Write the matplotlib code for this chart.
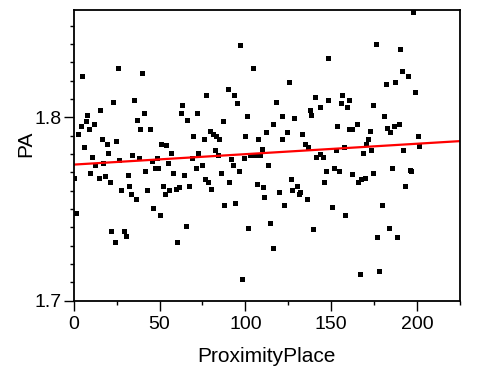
import matplotlib
matplotlib.use("Agg")
import matplotlib.pyplot as plt
from matplotlib.ticker import MultipleLocator
import numpy as np

plt.rcParams['font.family'] = ['Liberation Sans', 'DejaVu Sans']

proximity_place = [
    5.0, 25.7, 39.7, 22.9, 35.2, 15.5, 7.9, 41.0, 63.3, 62.6, 71.9, 4.1, 7.2, 11.7, 8.9, 2.7,
    36.9, 38.8, 44.3, 65.9, 69.7, 5.8, 16.3, 19.4, 24.8, 51.1, 54.0, 10.5, 20.0, 34.0, 38.1,
    48.4, 56.6, 72.5, 26.6, 68.8, 97.1, 104.7, 147.9, 125.4, 89.6, 77.3, 93.3, 95.2, 118.0,
    140.3, 147.9, 101.1, 86.7, 121.6, 128.5, 137.8, 143.4, 138.5, 115.8, 75.6, 79.5, 81.2,
    83.0, 84.9, 99.9, 107.3, 112.1, 121.6, 124.2, 132.7, 134.9, 136.4, 82.4, 109.4, 84.1,
    99.1, 91.5, 102.8, 105.7, 108.5, 141.3, 143.6, 145.2, 197.7, 176.1, 190.3, 191.0, 194.9,
    181.7, 187.4, 199.0, 156.4, 160.1, 155.5, 159.4, 174.1, 180.9, 153.4, 160.1, 162.3, 165.0,
    172.4, 182.7, 186.4, 189.3, 184.3, 200.4, 171.6, 170.4, 201.2, 152.5, 157.2, 173.2, 192.0,
    168.5, 0.3, 1.2, 12.6, 9.7, 14.8, 17.3, 18.3, 21.2, 27.6, 31.7, 32.4, 33.4, 36.3, 41.8,
    42.7, 45.7, 47.2, 49.0, 46.4, 50.3, 52.1, 53.2, 54.8, 55.7, 57.9, 59.7, 61.4, 64.3, 67.1,
    65.3, 71.1, 21.9, 23.9, 29.5, 30.5, 60.4, 74.8, 76.6, 78.3, 80.2, 85.9, 92.5, 96.4, 90.6,
    87.8, 94.2, 113.3, 106.5, 110.4, 111.1, 101.8, 114.1, 115.8, 98.0, 119.7, 122.6, 126.3,
    127.3, 130.0, 131.0, 132.0, 135.6, 139.5, 147.1, 146.0, 151.6, 154.7, 161.9, 167.3, 169.7,
    165.8, 174.1, 185.6, 195.7, 196.7, 193.2, 150.6, 158.0, 179.8, 183.5, 176.9, 188.5, 166.5,
    178.0,
]

pa = [
    1.8227, 1.8270, 1.8243, 1.8085, 1.8094, 1.8041, 1.8014, 1.8025, 1.8068, 1.8025, 1.8025,
    1.7954, 1.7981, 1.7963, 1.7936, 1.7910, 1.7986, 1.7936, 1.7936, 1.7986, 1.7899, 1.7839,
    1.7883, 1.7856, 1.7872, 1.7856, 1.7847, 1.7785, 1.7803, 1.7796, 1.7779, 1.7779, 1.7805,
    1.7803, 1.7767, 1.7776, 1.8392, 1.8270, 1.8321, 1.8190, 1.8154, 1.8119, 1.8119, 1.8076,
    1.8085, 1.8112, 1.8094, 1.8005, 1.7981, 1.8005, 1.7996, 1.8041, 1.8057, 1.8014, 1.7961,
    1.7883, 1.7927, 1.7909, 1.7899, 1.7883, 1.7899, 1.7883, 1.7918, 1.7883, 1.7918, 1.7909,
    1.7856, 1.7839, 1.7823, 1.7828, 1.7796, 1.7779, 1.7772, 1.7794, 1.7794, 1.7794, 1.7785,
    1.7800, 1.7785, 1.8573, 1.8401, 1.8372, 1.8250, 1.8225, 1.8183, 1.8190, 1.8139, 1.8119,
    1.8094, 1.8076, 1.8057, 1.8068, 1.8005, 1.7954, 1.7936, 1.7936, 1.7961, 1.7927, 1.7943,
    1.7954, 1.7961, 1.7918, 1.7899, 1.7883, 1.7856, 1.7843, 1.7823, 1.7839, 1.7823, 1.7823,
    1.7803, 1.7669, 1.7480, 1.7741, 1.7698, 1.7669, 1.7752, 1.7681, 1.7645, 1.7602, 1.7687,
    1.7627, 1.7583, 1.7554, 1.7705, 1.7602, 1.7760, 1.7725, 1.7725, 1.7504, 1.7467, 1.7627,
    1.7583, 1.7752, 1.7602, 1.7698, 1.7610, 1.7620, 1.7687, 1.7627, 1.7409, 1.7725, 1.7382,
    1.7322, 1.7382, 1.7354, 1.7322, 1.7741, 1.7662, 1.7645, 1.7610, 1.7698, 1.7741, 1.7705,
    1.7645, 1.7523, 1.7531, 1.7741, 1.7636, 1.7618, 1.7565, 1.7398, 1.7425, 1.7286, 1.7117,
    1.7592, 1.7523, 1.7662, 1.7602, 1.7627, 1.7583, 1.7592, 1.7556, 1.7389, 1.7705, 1.7645,
    1.7725, 1.7705, 1.7689, 1.7662, 1.7670, 1.7645, 1.7698, 1.7725, 1.7712, 1.7705, 1.7627,
    1.7512, 1.7469, 1.7523, 1.7398, 1.7346, 1.7346, 1.7144, 1.7164,
]

fit_intercept = 1.7742
fit_slope = 0.0000569

x_ticks = [0, 50, 100, 150, 200]
y_ticks = [1.7, 1.8]
x_range = [0, 225]
y_range = [1.7, 1.8585]

fig = plt.figure(figsize=(4.83, 3.81), dpi=100)
ax = fig.add_axes([0.1526, 0.2108, 0.7998, 0.763])

ax.plot(proximity_place, pa, linestyle='none', marker='s', markersize=3.6,
        markerfacecolor='black', markeredgecolor='black', markeredgewidth=0)

fx = np.array(x_range, dtype=float)
ax.plot(fx, fit_intercept + fit_slope * fx, color='#ff0000', linewidth=1.6)

ax.set_xlim(*x_range)
ax.set_ylim(*y_range)
ax.set_xticks(x_ticks)
ax.set_yticks(y_ticks)
ax.set_yticklabels([f"{v:.1f}" for v in y_ticks])
ax.xaxis.set_minor_locator(MultipleLocator(25))
ax.yaxis.set_minor_locator(MultipleLocator(0.01))
ax.tick_params(which='major', direction='out', length=7.5, width=1.0, labelsize=14, colors='black')
ax.tick_params(which='minor', direction='out', length=3, width=1.0)
ax.tick_params(axis='x', which='major', pad=3.5)
ax.tick_params(axis='y', which='major', pad=1.2)
for s in ax.spines.values():
    s.set_linewidth(1.3)
    s.set_color('black')

ax.set_xlabel('ProximityPlace', fontsize=15)
ax.set_ylabel('PA', fontsize=15)
ax.xaxis.set_label_coords(0.5, -0.16)
ax.yaxis.set_label_coords(-0.1, 0.54)

fig.savefig('out.png', dpi=100)
